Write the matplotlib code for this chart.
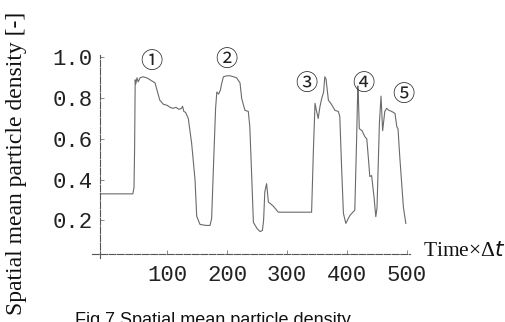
import matplotlib
matplotlib.use("Agg")
import matplotlib.pyplot as plt

time = [-11, 43, 45, 46, 47, 48, 50, 52, 55, 60, 66, 72, 80, 88, 94, 100, 105, 110, 115,
        120, 124, 126, 128, 131, 135.5, 141, 146.7, 149.5, 155, 165, 171.7, 174.4, 178,
        181, 183, 186, 189, 191, 194, 200, 205, 211, 216, 221.7, 224.4, 228, 230, 235.5,
        238, 241, 244, 250, 255, 259, 261, 263, 266, 269, 277, 285.5, 300, 327, 341, 344,
        346.7, 349, 352, 355, 358, 361, 363, 365, 369, 374, 380, 385.5, 388, 391, 394,
        398, 405, 413, 416, 418, 419, 420.5, 425, 430, 433, 435.5, 438, 441, 445, 448,
        450, 454, 456.7, 459.4, 463, 466, 470, 474.4, 480, 483, 485, 488, 494, 498]
density = [0.33, 0.33, 0.36, 0.55, 0.89, 0.87, 0.90, 0.88, 0.90, 0.905, 0.90, 0.89, 0.875,
           0.79, 0.77, 0.765, 0.755, 0.75, 0.755, 0.745, 0.75, 0.76, 0.735, 0.73, 0.70,
           0.58, 0.40, 0.22, 0.18, 0.175, 0.175, 0.21, 0.51, 0.75, 0.83, 0.82, 0.84, 0.87,
           0.905, 0.91, 0.91, 0.905, 0.90, 0.875, 0.80, 0.76, 0.74, 0.735, 0.66, 0.43,
           0.19, 0.16, 0.145, 0.15, 0.20, 0.34, 0.38, 0.29, 0.27, 0.24, 0.24, 0.24, 0.24,
           0.545, 0.775, 0.74, 0.70, 0.76, 0.80, 0.83, 0.905, 0.895, 0.79, 0.77, 0.74,
           0.735, 0.71, 0.46, 0.235, 0.185, 0.225, 0.25, 0.595, 0.86, 0.80, 0.65, 0.64,
           0.61, 0.60, 0.51, 0.415, 0.42, 0.316, 0.218, 0.26, 0.677, 0.81, 0.64, 0.735,
           0.75, 0.74, 0.735, 0.725, 0.66, 0.65, 0.51, 0.265, 0.185]

marker_labels = ["①", "②", "③", "④", "⑤"]
marker_x = [74.5, 199.5, 333, 427, 494]
marker_y = [0.98, 0.99, 0.873, 0.873, 0.82]

xticks = [100, 200, 300, 400, 500]
yticks = [0.2, 0.4, 0.6, 0.8, 1.0]

fig = plt.figure(figsize=(5.05, 3.22), dpi=100)
ax = fig.add_axes([92/505, 1-258/322, 318/505, (258-55)/322])
ax.plot(time, density, color="#6a6a6a", lw=0.8)

ax.set_xlim(-25, 505)
ax.set_ylim(0.015, 1.012)
ax.spines["left"].set_position(("data", -12))
ax.spines["bottom"].set_position(("data", 0.034))
for s in ["top", "right"]:
    ax.spines[s].set_visible(False)
for s in ["left", "bottom"]:
    ax.spines[s].set_color("#555555")
    ax.spines[s].set_linewidth(0.8)
    ax.spines[s].set_linestyle((0, (6, 1.5)))

ax.set_xticks(xticks)
ax.set_xticklabels([str(v) for v in xticks], family="Liberation Mono", fontsize=16,
                   color="#222222")
ax.set_yticks(yticks)
ax.set_yticklabels([f"{v:.1f}" for v in yticks], family="Liberation Mono", fontsize=16,
                   color="#222222")
ax.tick_params(axis="both", direction="in", length=3, width=0.6, color="#777777")
ax.tick_params(axis="x", pad=8)
ax.tick_params(axis="y", pad=5)

for lab, x, y in zip(marker_labels, marker_x, marker_y):
    ax.text(x, y, lab, ha="center", va="center", fontsize=16,
            family=["Noto Sans CJK JP", "DejaVu Sans"], color="#222222")

fig.text(423/505, 1-252/322, "Time×Δ$\\mathit{t}$", family="Liberation Serif",
         fontsize=15.5, ha="left", va="center", color="#111111")
fig.text(17/505, 1-163.5/322, "Spatial mean particle density [-]", family="Liberation Serif",
         fontsize=17, rotation=90, ha="center", va="center", color="#111111")
fig.text(75/505, 1-312/322, "Fig.7 Spatial mean particle density", family="Liberation Sans",
         fontsize=13, ha="left", va="top", color="#111111")

fig.savefig("out.png", dpi=100)
